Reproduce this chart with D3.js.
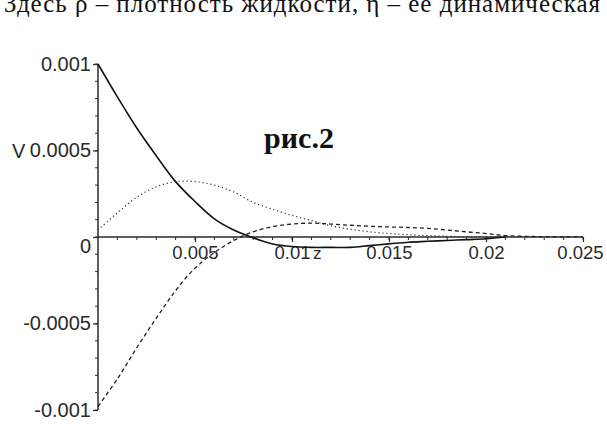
<!DOCTYPE html>
<html><head><meta charset="utf-8">
<script src="https://cdn.jsdelivr.net/npm/d3@7"></script>
<style>html,body{margin:0;padding:0;background:#fff;overflow:hidden}</style>
</head><body>
<svg id="c" width="607" height="426"></svg>
<script>
const headerText = "Здесь ρ – плотность жидкости, η – ее динамическая";
const titleText = "рис.2";
const xTickValues = [0.005, 0.01, 0.015, 0.02, 0.025];
const xTickLabels = ["0.005", "0.01", "0.015", "0.02", "0.025"];
const yTickValues = [-0.001, -0.0005, 0, 0.0005, 0.001];
const yTickLabels = ["-0.001", "-0.0005", "0", "0.0005", "0.001"];
const zValues = [0,0.001,0.002,0.003,0.004,0.005,0.006,0.007,0.008,0.009,0.010,0.011,0.012,0.013,0.014,0.015,0.016,0.017,0.018,0.019,0.020,0.021,0.022,0.023,0.024,0.025];
const solidV = [0.00100,0.00081,0.00063,0.00047,0.00032,0.000205,0.000105,0.00004,-0.000005,-0.00004,-0.000055,-0.00006,-0.00006,-0.00006,-0.00005,-0.00004,-0.00003,-0.000025,-0.00002,-0.000015,-0.00001,0];
const dottedV = [0.00004,0.00014,0.00023,0.00029,0.00032,0.00032,0.00030,0.00026,0.00020,0.00016,0.000125,0.000095,0.000065,0.000045,0.00003,0.00002,0.000013,0.000008,0.000004,0.000002,0.000001,0];
const dashedV = [-0.00098,-0.00082,-0.00064,-0.00047,-0.00031,-0.00018,-0.00009,-0.00002,0.00003,0.00006,0.000075,0.00008,0.000075,0.000068,0.000062,0.000058,0.000055,0.00005,0.00004,0.00003,0.00002,0.000008,0.000004,0.000002,0.000001,0];

const svg = d3.select("#c");
const x = d3.scaleLinear().domain([0, 0.025]).range([98, 583]);
const y = d3.scaleLinear().domain([-0.001, 0.001]).range([410, 64]);
const ink = "#2a2a2a";
const tickFont = "'Liberation Sans', Arial, sans-serif";

svg.append("text").attr("x", 4).attr("y", 12)
  .attr("font-family", "'Liberation Serif','Times New Roman',serif").attr("font-size", 25)
  .attr("textLength", 596).attr("lengthAdjust", "spacing")
  .attr("fill", "#111").text(headerText);

// minor ticks
const yMinor = d3.range(-10, 11).map(i => i * 0.0001);
svg.append("g").selectAll("line").data(yMinor).join("line")
  .attr("x1", x(0) - 3).attr("x2", x(0)).attr("y1", d => y(d)).attr("y2", d => y(d))
  .attr("stroke", ink).attr("stroke-width", 1);
const xMinor = d3.range(1, 26).map(i => i * 0.001);
svg.append("g").selectAll("line").data(xMinor).join("line")
  .attr("x1", d => x(d)).attr("x2", d => x(d)).attr("y1", y(0)).attr("y2", y(0) + 3)
  .attr("stroke", ink).attr("stroke-width", 1);

const yAxis = d3.axisLeft(y).tickValues(yTickValues)
  .tickFormat((d, i) => yTickLabels[i]).tickSize(5).tickPadding(2);
const gy = svg.append("g").attr("transform", `translate(${x(0)},0)`).call(yAxis);
const xAxis = d3.axisBottom(x).tickValues(xTickValues)
  .tickFormat((d, i) => xTickLabels[i]).tickSize(5).tickPadding(4);
const gx = svg.append("g").attr("transform", `translate(0,${y(0)})`).call(xAxis);
[gx, gy].forEach(g => {
  g.select(".domain").attr("stroke", ink).attr("stroke-width", 1.5);
  g.selectAll(".tick line").attr("stroke", ink).attr("stroke-width", 1.2);
  g.selectAll(".tick text").attr("font-family", tickFont).attr("font-size", 20).attr("fill", ink);
});
gx.selectAll(".tick text").attr("font-size", 18.5);
gx.selectAll(".tick").filter(d => d === 0.025).select("text").attr("dx", -3);
gx.select(".domain").attr("d", `M${x(0)},0H${x(0.025)}`);
gy.select(".domain").attr("d", `M0,${y(-0.001)}V${y(0.001)}`);
gy.selectAll(".tick").filter(d => d === 0).select("text").attr("dy", "0.75em");

svg.append("text").attr("x", 12).attr("y", y(0.0005) + 7)
  .attr("font-family", tickFont).attr("font-size", 20).attr("fill", ink).text("V");
svg.append("text").attr("x", 313).attr("y", 259)
  .attr("font-family", tickFont).attr("font-size", 17).attr("fill", ink).text("z");

svg.append("text").attr("x", 299).attr("y", 148).attr("text-anchor", "middle")
  .attr("font-family", "'Liberation Serif','Times New Roman',serif").attr("font-weight", "bold")
  .attr("font-size", 30).attr("fill", "#111").text(titleText);

const line = d3.line().x(d => x(d[0])).y(d => y(d[1])).curve(d3.curveCatmullRom.alpha(0.5));
const series = [
  {v: solidV, dash: null, w: 1.6, c: "#111"},
  {v: dottedV, dash: "1.2,2.8", w: 1.2, c: "#333"},
  {v: dashedV, dash: "4,3", w: 1.3, c: "#222"}
];
series.forEach(s => {
  svg.append("path").datum(s.v.map((v, i) => [zValues[i], v]))
    .attr("d", line).attr("fill", "none").attr("stroke", s.c)
    .attr("stroke-width", s.w).attr("stroke-dasharray", s.dash);
});
</script>
</body></html>
